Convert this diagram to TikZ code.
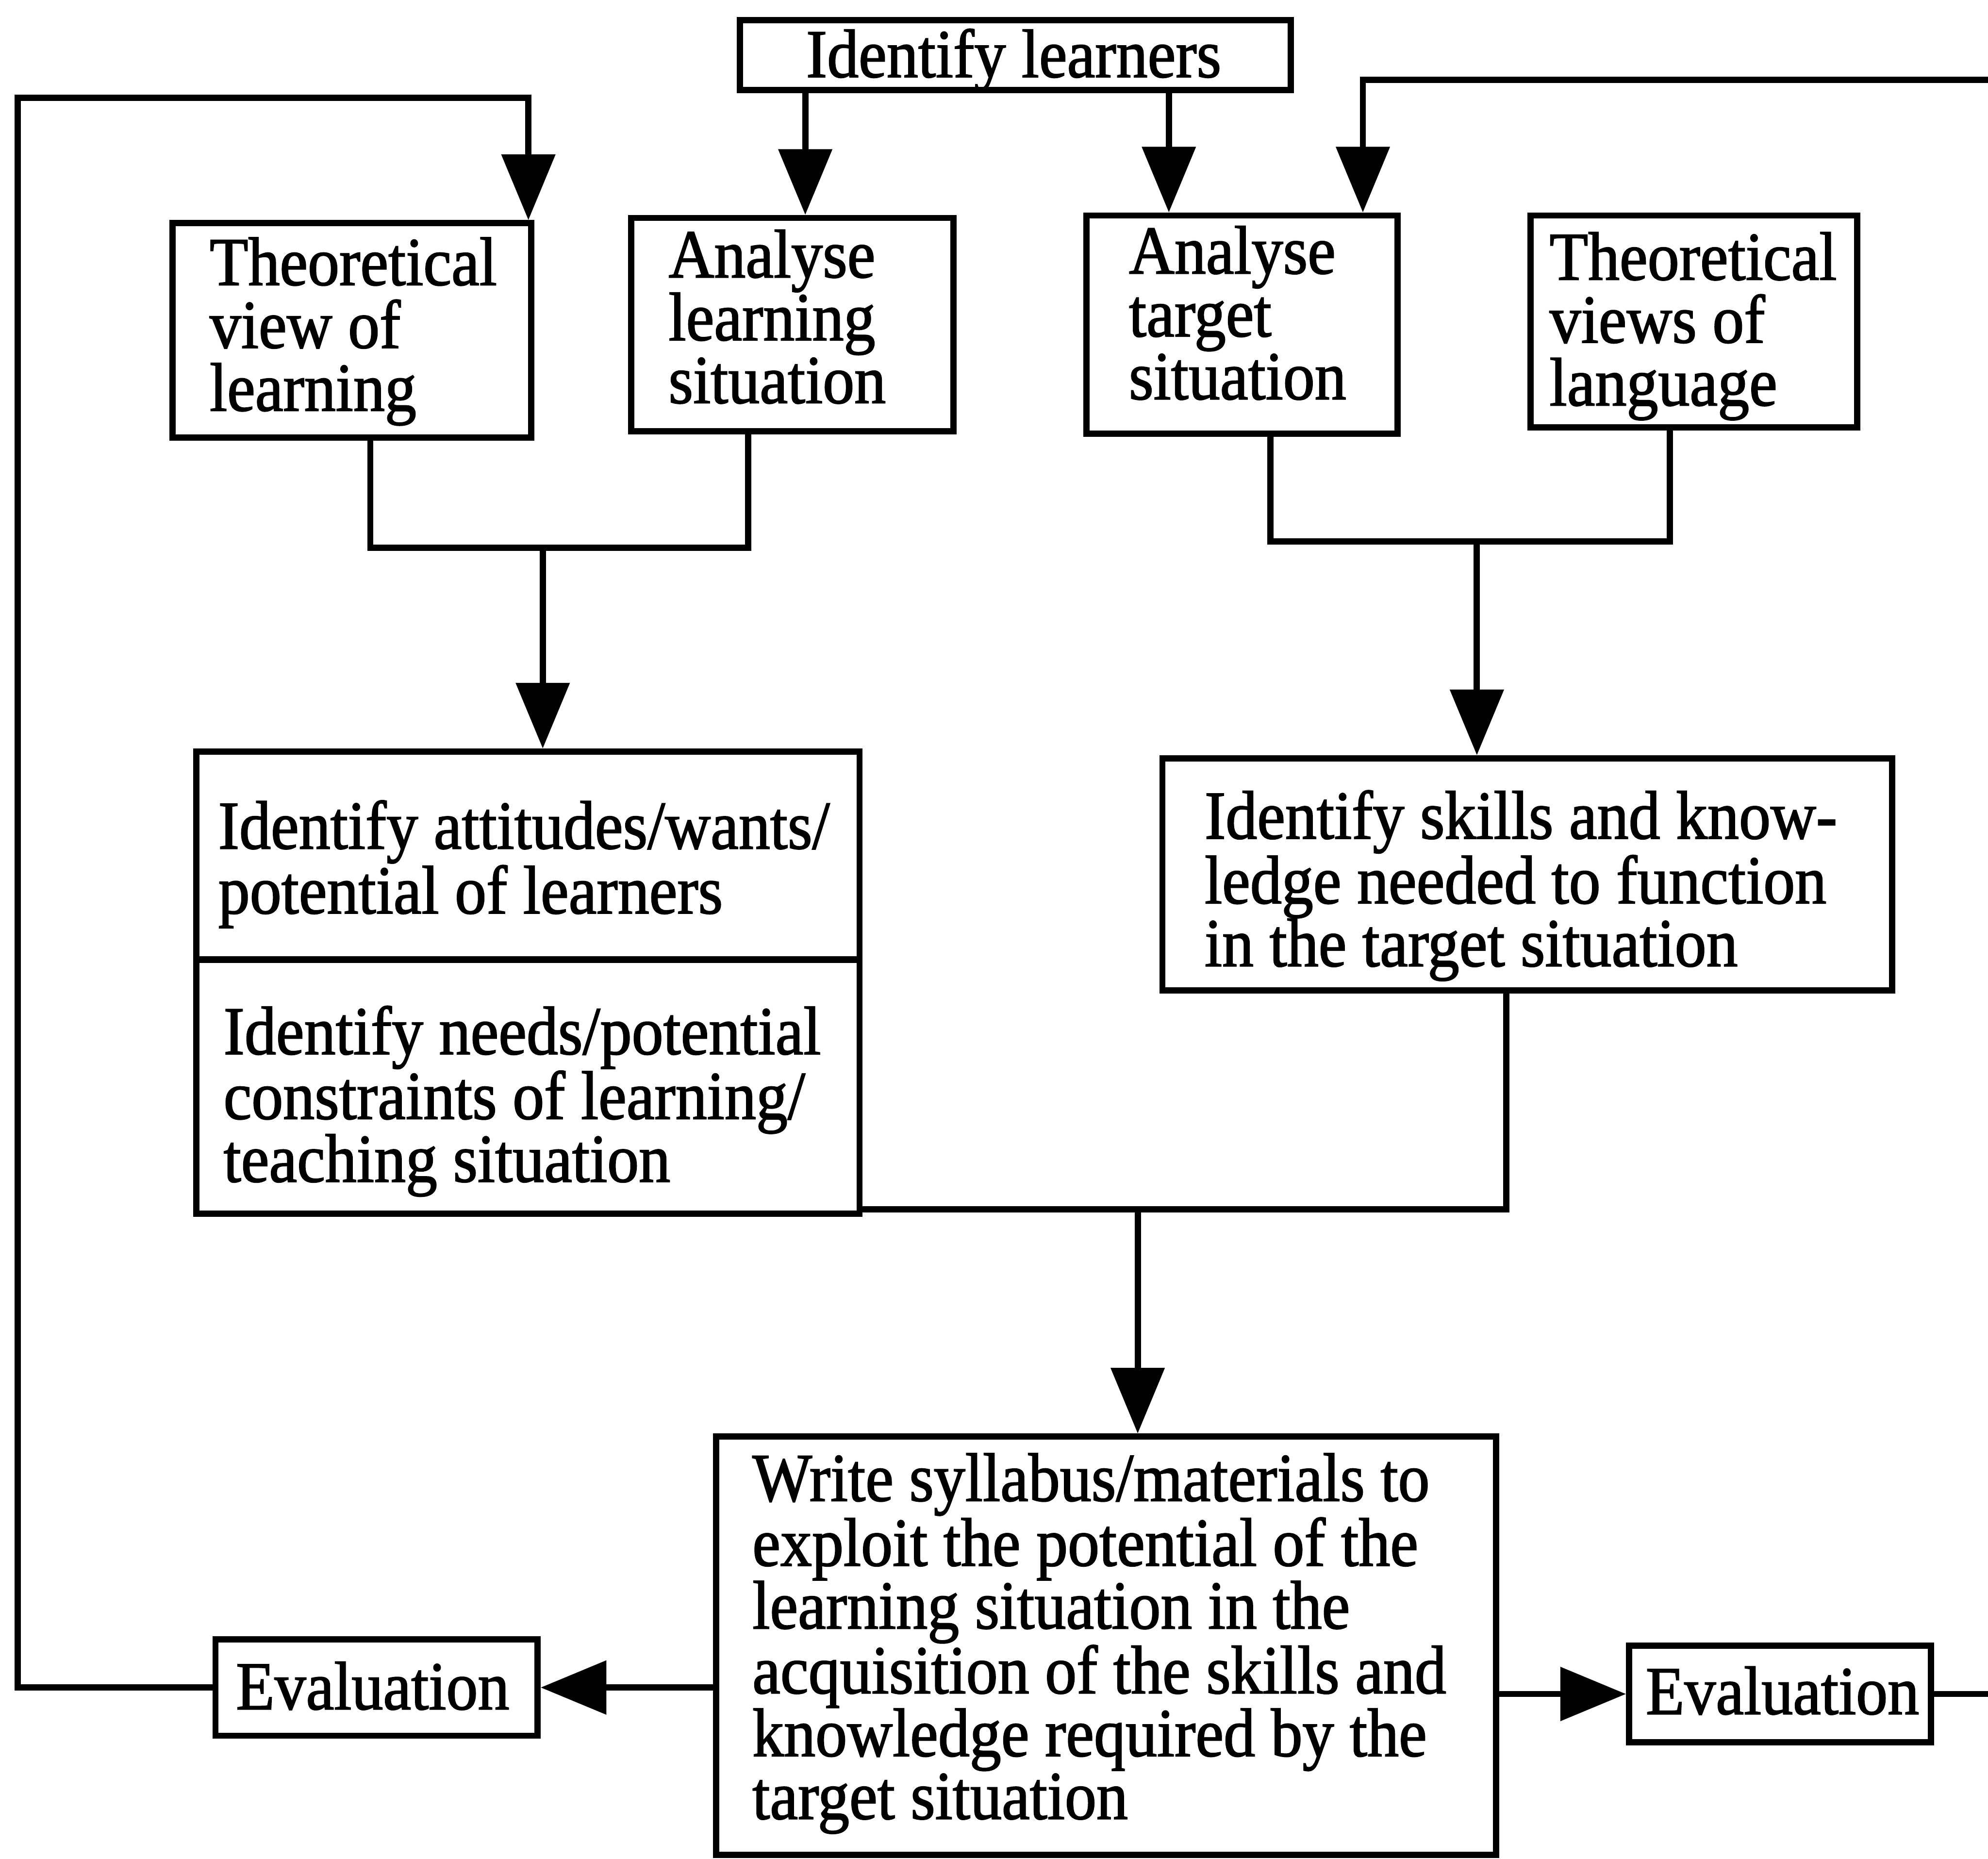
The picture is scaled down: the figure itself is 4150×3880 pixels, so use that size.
\documentclass[tikz,border=0pt]{standalone}
\usepackage{fontspec}
\setmainfont{Liberation Serif}[FakeStretch=0.92, FakeBold=1.5]
\usetikzlibrary{arrows.meta}
\begin{document}
\begin{tikzpicture}[x=0.01cm, y=-0.01cm,
  box/.style={draw, rectangle, line width=0.13cm, inner sep=0pt},
  lbl/.style={inner sep=0pt, align=left, anchor=north west,
              font=\fontsize{40.7pt}{37.3pt}\selectfont},
  wire/.style={line width=0.13cm},
  flow/.style={wire, -{Triangle[length=1.37cm,width=1.1cm]}}]

% canvas
\fill[white] (0,0) rectangle (4150,3880);
\useasboundingbox (0,0) rectangle (4150,3880);

% boxes
\node[box, minimum width=11.49cm, minimum height=1.46cm] (idl) at (2119.5,115) {};
\node[box, minimum width=7.49cm,  minimum height=4.47cm] (tvl) at (734.5,689.5) {};
\node[box, minimum width=6.72cm,  minimum height=4.45cm] (als) at (1654,677.5) {};
\node[box, minimum width=6.49cm,  minimum height=4.55cm] (ats) at (2592.5,677.5) {};
\node[box, minimum width=6.82cm,  minimum height=4.42cm] (tvg) at (3536,671) {};
\node[box, minimum width=13.84cm, minimum height=4.34cm] (att) at (1102,1786) {};
\node[box, minimum width=13.84cm, minimum height=5.30cm] (nds) at (1102,2268) {};
\node[box, minimum width=15.22cm, minimum height=4.84cm] (sk)  at (3188,1825) {};
\node[box, minimum width=16.28cm, minimum height=8.73cm] (ws)  at (2309,3435.5) {};
\node[box, minimum width=6.72cm,  minimum height=2.01cm] (evl) at (786,3522.5) {};
\node[box, minimum width=6.30cm,  minimum height=2.02cm] (evr) at (3716,3536) {};

% box texts
\node[lbl, anchor=base] (idl-t) at (2116,161) {Identify learners};
\node[lbl] (tvl-t) at (437,495)  {Theoretical\\view of\\learning};
\node[lbl] (als-t) at (1395,479) {Analyse\\learning\\situation};
\node[lbl] (ats-t) at (2356,471) {Analyse\\target\\situation};
\node[lbl] (tvg-t) at (3234,484) {Theoretical\\views of\\language};
\node[lbl] (att-t) at (455,1670) {Identify attitudes/wants/\\potential of learners};
\node[lbl] (nds-t) at (466,2099) {Identify needs/potential\\constraints of learning/\\teaching situation};
\node[lbl] (sk-t)  at (2514,1649) {Identify skills and know-\\ledge needed to function\\in the target situation};
\node[lbl] (ws-t)  at (1570,3033) {Write syllabus/materials to\\exploit the potential of the\\learning situation in the\\acquisition of the skills and\\knowledge required by the\\target situation};
\node[lbl, anchor=base west] (evl-t) at (492,3568) {Evaluation};
\node[lbl, anchor=base west] (evr-t) at (3435,3578) {Evaluation};

% learners feed both analyses
\draw[flow] (1681,0 |- idl.south) -- (1681,0 |- als.north);
\draw[flow] (2440,0 |- idl.south) -- (2440,0 |- ats.north);

% learning side merge
\coordinate (jl) at (1133,1143);
\draw[wire] (773,0 |- tvl.south) -- (773,1143) -- (1562,1143) -- (1562,0 |- als.south);
\draw[flow] (jl) -- (jl |- att.north);

% language side merge
\coordinate (jr) at (3083,1130);
\draw[wire] (2652,0 |- ats.south) -- (2652,1130) -- (3486,1130) -- (3486,0 |- tvg.south);
\draw[flow] (jr) -- (jr |- sk.north);

% both analyses lead to the syllabus
\coordinate (jb) at (2375,2524);
\draw[wire] (nds.east |- 0,2524) -- (3144,2524) -- (3144,0 |- sk.south);
\draw[flow] (jb) -- (jb |- ws.north);

% evaluation on the left loops back to the view of learning
\draw[flow] (ws.west |- evl.east) -- (evl.east);
\draw[flow] (evl.west) -- (37,0 |- evl.west) -- (37,204) -- (1103,204) -- (1103,0 |- tvl.north);

% evaluation on the right loops back to the target situation
\draw[flow] (ws.east |- evr.west) -- (evr.west);
\coordinate (re1) at (4150,0 |- evr.east);
\draw[wire] (evr.east) -- (re1);
\coordinate (re2) at (4150,167);
\draw[flow] (re2) -- (2845,167) -- (2845,0 |- ats.north);

\end{tikzpicture}
\end{document}
